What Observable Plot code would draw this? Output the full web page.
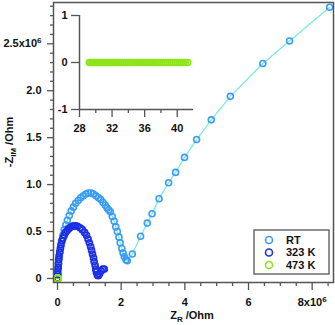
<!DOCTYPE html>
<html><head><meta charset="utf-8">
<script src="https://cdn.jsdelivr.net/npm/d3@7"></script>
<script src="https://cdn.jsdelivr.net/npm/@observablehq/plot@0.6"></script>
<style>
html,body{margin:0;padding:0;background:#fff;}
#wrap{position:relative;width:335px;height:325px;}
#wrap svg{position:absolute;left:0;top:0;}
</style></head><body><div id="wrap"></div>
<script>
// RT (units of 1e6 Ohm)
const rtX = [0.00,0.01,0.02,0.03,0.05,0.07,0.10,0.13,0.17,0.21,0.26,0.31,0.37,0.43,0.50,0.57,0.65,0.73,0.81,0.89,0.97,1.05,1.13,1.21,1.29,1.36,1.43,1.50,1.56,1.61,1.66,1.72,1.78,1.83,1.88,1.93,1.97,2.02,2.06,2.10,2.15,2.19,2.35,2.61,2.82,2.97,3.19,3.49,3.71,3.99,4.37,4.83,5.43,6.45,7.29,8.55];
const rtY = [0.00,0.05,0.11,0.16,0.22,0.28,0.34,0.40,0.46,0.52,0.57,0.62,0.67,0.72,0.76,0.80,0.83,0.86,0.88,0.90,0.91,0.91,0.90,0.88,0.86,0.84,0.81,0.78,0.75,0.73,0.71,0.66,0.61,0.55,0.50,0.44,0.38,0.32,0.27,0.23,0.20,0.19,0.26,0.45,0.59,0.69,0.85,1.02,1.13,1.29,1.48,1.69,1.94,2.29,2.53,2.89];
// 323 K (units of 1e6 Ohm)
const k323X = [0.00,0.01,0.01,0.02,0.03,0.04,0.05,0.07,0.09,0.11,0.14,0.17,0.21,0.25,0.30,0.35,0.40,0.46,0.52,0.57,0.63,0.71,0.78,0.85,0.91,0.96,1.00,1.04,1.07,1.10,1.13,1.15,1.18,1.20,1.22,1.25,1.28,1.32,1.37,1.42,1.47];
const k323Y = [0.00,0.04,0.08,0.12,0.16,0.20,0.24,0.28,0.32,0.36,0.40,0.43,0.46,0.49,0.51,0.53,0.545,0.555,0.56,0.56,0.555,0.54,0.52,0.49,0.46,0.42,0.38,0.34,0.30,0.26,0.22,0.18,0.14,0.10,0.07,0.04,0.03,0.05,0.08,0.10,0.10];
// 473 K (Ohm)
const k473X = [29.20,29.38,29.55,29.71,29.90,30.08,30.27,30.45,30.62,30.80,30.97,31.15,31.33,31.52,31.70,31.88,32.05,32.23,32.42,32.60,32.80,33.05,33.30,33.55,33.80,34.05,34.30,34.55,34.80,35.05,35.30,35.55,35.80,36.05,36.30,36.55,36.80,37.05,37.30,37.55,37.80,38.05,38.30,38.55,38.80,39.05,39.30,39.55,39.80,40.05,40.30,40.55,40.80,41.05,41.30];
const k473Y = [0,0,0,0,0,0,0,0,0,0,0,
               0,0,0,0,0,0,0,0,0,0,0,
               0,0,0,0,0,0,0,0,0,0,0,
               0,0,0,0,0,0,0,0,0,0,0,
               0,0,0,0,0,0,0,0,0,0,0];

// ticks
const yMajor = [0,0.5,1.0,1.5,2.0,2.5];
const yLabels = ["0","0.5","1.0","1.5","2.0","2.5x10"];
const xMajor = [0,2,4,6,8];
const xLabels = ["0","2","4","6","8x10"];
const insetXMajor = [28,32,36,40];
const insetXMinor = [30,34,38];
const insetYTicks = [-1,0,1];
const seriesNames = ["RT","323 K","473 K"];

const FONT = "'Liberation Sans', Arial, Helvetica, sans-serif";
const AX = "#555";
const C_RT = "#3a9cf4", C_323 = "#1c2ee6", C_473 = "#8de41a";
const L_RT = "#74ecdc", L_323 = "#c4f0ff";

const rt = rtX.map((x,i)=>({x, y: rtY[i]}));
const k323 = k323X.map((x,i)=>({x, y: k323Y[i]}));
const k473 = k473X.map((x,i)=>({x, y: k473Y[i]}));
const k473main = k473.map(d=>({x: d.x/1e6, y: d.y/1e6}));

const yMinor = d3.range(0, 30).map(i=>i/10).filter(v=>!yMajor.some(m=>Math.abs(m-v)<1e-9));
const xMinor = d3.range(0, 18).map(i=>i/2).filter(v=>!xMajor.includes(v));

const baseStyle = {fontFamily: FONT, fontSize: "11px", fontWeight: "bold", color: "#111", background: "transparent", overflow: "visible"};

const main = Plot.plot({
  width: 335, height: 325,
  marginLeft: 53, marginRight: 2, marginTop: 2, marginBottom: 43,
  style: baseStyle,
  x: {domain: [-0.126, 8.67], label: null},
  y: {domain: [-0.043, 2.94], label: null},
  marks: [
    Plot.axisY(yMinor, {tickSize: 3, tickFormat: () => "", stroke: AX, strokeWidth: 1.3}),
    Plot.axisY(yMajor, {tickSize: 6, tickPadding: 6, tickFormat: d => yLabels[yMajor.indexOf(d)], stroke: AX, strokeWidth: 1.3}),
    Plot.axisX(xMinor, {tickSize: 4, tickFormat: () => "", stroke: AX, strokeWidth: 1.3}),
    Plot.axisX(xMajor, {tickSize: 8, tickPadding: 8, tickFormat: d => xLabels[xMajor.indexOf(d)], stroke: AX, strokeWidth: 1.3}),
    Plot.line(rt, {x: "x", y: "y", stroke: L_RT, strokeWidth: 1.2}),
    Plot.dot(rt, {x: "x", y: "y", r: 3, stroke: C_RT, strokeWidth: 1.6, fill: "none"}),
    Plot.line(k323, {x: "x", y: "y", stroke: L_323, strokeWidth: 1}),
    Plot.dot(k323, {x: "x", y: "y", r: 3, stroke: C_323, strokeWidth: 1.7, fill: "none"}),
    Plot.dot(k473main, {x: "x", y: "y", r: 3.5, stroke: C_473, strokeWidth: 1.5, fill: "none"}),
    Plot.frame({stroke: AX, strokeWidth: 1.5})
  ]
});

const inset = Plot.plot({
  width: 200, height: 140,
  marginLeft: 79, marginRight: 7, marginTop: 15, marginBottom: 31,
  style: baseStyle,
  x: {domain: [28, 42], label: null},
  y: {domain: [-1, 1], label: null},
  marks: [
    Plot.ruleX([insetXMajor[0]], {stroke: AX, strokeWidth: 1.5}),
    Plot.ruleY([insetYTicks[0]], {stroke: AX, strokeWidth: 1.5}),
    Plot.axisY(insetYTicks, {tickSize: 8, tickPadding: 4, tickFormat: d => String(d), stroke: AX, strokeWidth: 1.3}),
    Plot.axisX(insetXMinor, {tickSize: 4, tickFormat: () => "", stroke: AX, strokeWidth: 1.3}),
    Plot.axisX(insetXMajor, {tickSize: 8, tickPadding: 7, tickFormat: d => String(d), stroke: AX, strokeWidth: 1.3}),
    Plot.line(k473, {x: "x", y: "y", stroke: C_473, strokeWidth: 1}),
    Plot.dot(k473, {x: "x", y: "y", r: 3, stroke: C_473, strokeWidth: 1.5, fill: "none"})
  ]
});

const wrap = document.getElementById("wrap");
wrap.appendChild(main);
wrap.appendChild(inset);

// superscripts on tick labels
d3.select(main).selectAll("text").each(function(){
  const t = this.textContent;
  if (t === "2.5x10" || t === "8x10") {
    d3.select(this).append("tspan").attr("dy", "-0.5em").attr("font-size", "8px").text("6");
  }
});

const svg = d3.select(main);
// axis titles
const yt = svg.append("text")
  .attr("transform", "translate(13,142) rotate(-90)")
  .attr("text-anchor", "middle")
  .attr("fill", "#111")
  .style("font-size", "11px").style("font-weight", "bold").style("font-family", FONT);
yt.append("tspan").text("-Z");
yt.append("tspan").attr("dy", 3).attr("font-size", "8px").text("IM");
yt.append("tspan").attr("dy", -3).text(" /Ohm");

const xt = svg.append("text")
  .attr("transform", "translate(192,319)")
  .attr("text-anchor", "middle")
  .attr("fill", "#111")
  .style("font-size", "11px").style("font-weight", "bold").style("font-family", FONT);
xt.append("tspan").text("Z");
xt.append("tspan").attr("dy", 3).attr("font-size", "8px").text("R");
xt.append("tspan").attr("dy", -3).text(" /Ohm");

// legend
const lg = svg.append("g");
lg.append("rect").attr("x", 254).attr("y", 230).attr("width", 75).attr("height", 44)
  .attr("fill", "#fff").attr("stroke", AX).attr("stroke-width", 1.3);
const lcol = [C_RT, C_323, C_473];
seriesNames.forEach((name, i) => {
  const cy = 240 + i * 12.5;
  lg.append("circle").attr("cx", 269).attr("cy", cy).attr("r", 3.5)
    .attr("fill", "none").attr("stroke", lcol[i]).attr("stroke-width", 1.6);
  lg.append("text").attr("x", 286).attr("y", cy).attr("dy", "0.36em")
    .attr("text-anchor", "start")
    .attr("fill", "#111")
    .style("font-size", "11px").style("font-weight", "bold").style("font-family", FONT)
    .text(name);
});
</script></body></html>
